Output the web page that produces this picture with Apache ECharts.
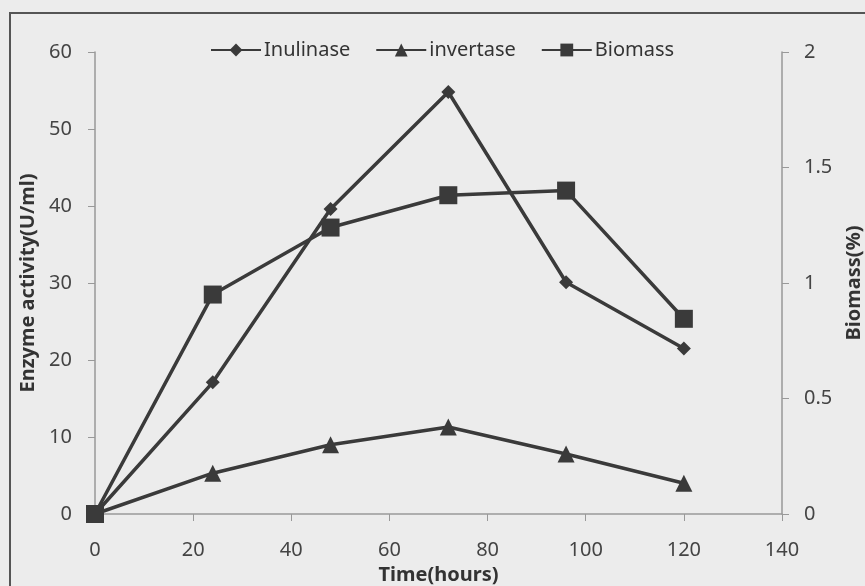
<!DOCTYPE html>
<html><head><meta charset="utf-8">
<script src="https://cdn.jsdelivr.net/npm/echarts@6/dist/echarts.min.js"></script>
<style>html,body{margin:0;padding:0;background:#ececec}#c{width:865px;height:586px}</style>
</head><body><div id="c"></div>
<script>
const timeHours = [0, 24, 48, 72, 96, 120];
const inulinase = [0, 17.1, 39.6, 54.8, 30.1, 21.5];
const invertase = [0, 5.3, 9.0, 11.3, 7.8, 4.0];
const biomass = [0, 0.95, 1.24, 1.38, 1.40, 0.845];
const seriesNames = ['Inulinase', 'invertase', 'Biomass'];

const ink = '#3a3a3a';
const font = 'Noto Sans';
const pair = (xs, ys) => xs.map((x, i) => [x, ys[i]]);

const chart = echarts.init(document.getElementById('c'));
chart.setOption({
  backgroundColor: '#ececec',
  animation: false,
  textStyle: { fontFamily: font },
  graphic: [{ type: 'rect', shape: { x: 10, y: 13, width: 900, height: 700 }, style: { fill: 'none', stroke: '#555', lineWidth: 2 }, silent: true }],
  legend: {
    left: 205, top: 35, itemGap: 25, itemWidth: 50, itemHeight: 16,
    textStyle: { fontFamily: font, fontSize: 20, color: '#333', padding: [0, 0, 0, -2] },
    data: seriesNames
  },
  grid: { left: 95, right: 83, top: 52, bottom: 72, outerBoundsMode: 'none', containLabel: false },
  xAxis: {
    type: 'value', min: 0, max: 140, interval: 20,
    name: 'Time(hours)', nameLocation: 'middle', nameGap: 50,
    nameTextStyle: { fontFamily: font, fontSize: 20, fontWeight: 'bold', color: '#333' },
    axisLine: { lineStyle: { color: '#999', width: 1.5 } },
    axisTick: { show: true, inside: false, length: 7, lineStyle: { color: '#999' } },
    axisLabel: { fontSize: 20, color: '#444', margin: 26 },
    splitLine: { show: false }
  },
  yAxis: [{
    type: 'value', min: 0, max: 60, interval: 10, position: 'left',
    name: 'Enzyme activity(U/ml)', nameLocation: 'middle', nameGap: 55,
    nameTextStyle: { fontFamily: font, fontSize: 20, fontWeight: 'bold', color: '#333' },
    axisLine: { show: true, lineStyle: { color: '#999', width: 1.5 } },
    axisTick: { show: true, length: 7, lineStyle: { color: '#999' } },
    axisLabel: { fontSize: 20, color: '#444', margin: 23 },
    splitLine: { show: false }
  }, {
    type: 'value', min: 0, max: 2, interval: 0.5, position: 'right',
    name: 'Biomass(%)', nameLocation: 'middle', nameGap: 62,
    nameTextStyle: { fontFamily: font, fontSize: 20, fontWeight: 'bold', color: '#333' },
    axisLine: { show: true, lineStyle: { color: '#999', width: 1.5 } },
    axisTick: { show: true, length: 7, lineStyle: { color: '#999' } },
    axisLabel: { fontSize: 20, color: '#444', margin: 22 },
    splitLine: { show: false }
  }],
  series: [{
    name: seriesNames[0], type: 'line', yAxisIndex: 0, data: pair(timeHours, inulinase),
    symbol: 'diamond', symbolSize: 14, lineStyle: { color: ink, width: 3.5 }, itemStyle: { color: ink }
  }, {
    name: seriesNames[1], type: 'line', yAxisIndex: 0, data: pair(timeHours, invertase),
    symbol: 'triangle', symbolSize: 17, lineStyle: { color: ink, width: 3.5 }, itemStyle: { color: ink }
  }, {
    name: seriesNames[2], type: 'line', yAxisIndex: 1, data: pair(timeHours, biomass),
    symbol: 'rect', symbolSize: 18, lineStyle: { color: ink, width: 3.5 }, itemStyle: { color: ink }
  }]
});
</script></body></html>
